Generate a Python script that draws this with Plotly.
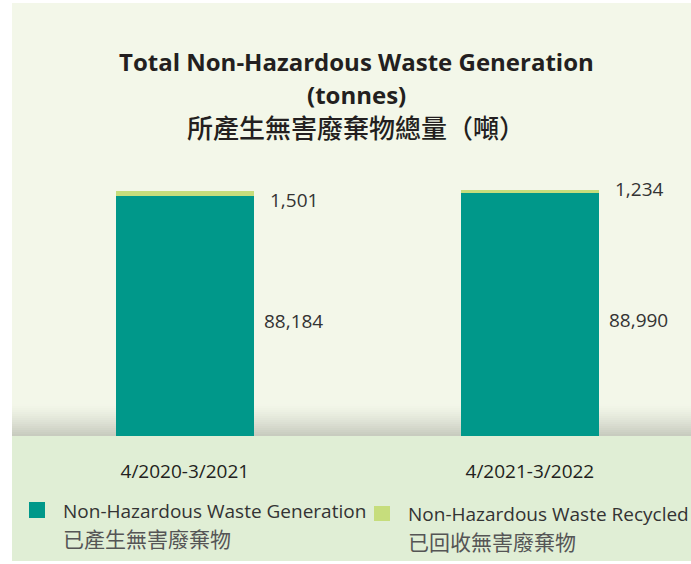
import plotly.graph_objects as go

# ---- data ----
periods = ["4/2020-3/2021", "4/2021-3/2022"]
generated = [88184, 88990]
recycled = [1501, 1234]
series_names = ["Non-Hazardous Waste Generation", "Non-Hazardous Waste Recycled"]
series_names_zh = ["已產生無害廢棄物", "已回收無害廢棄物"]
title_en = "Total Non-Hazardous Waste Generation"
title_unit = "(tonnes)"
title_zh = "所產生無害廢棄物總量（噸）"

# ---- style ----
W, H = 691, 564
L, R, T, B = 12, 0, 3, 128
TEAL = "#00988a"
LIME = "#c6dd7c"
PANEL = "#f3f7e9"
BAND = "#e0eed5"
LATIN = "Open Sans, Noto Sans, sans-serif"
CJK = "Noto Sans CJK TC, Noto Sans CJK SC, sans-serif"
recycled_label_shift = [-9, 1]

plot_h = H - T - B
plot_w = W - L - R


def py(p):
    return (H - B - p) / plot_h


def pxx(x):
    return (x - L) / plot_w


fig = go.Figure()
fig.add_bar(x=periods, y=generated, name=series_names[0], marker=dict(color=TEAL, line=dict(width=0)),
            width=0.4, showlegend=False, hoverinfo="skip")
fig.add_bar(x=periods, y=recycled, name=series_names[1], marker=dict(color=LIME, line=dict(width=0)),
            width=0.4, showlegend=False, hoverinfo="skip")

shapes = []
# panel
shapes.append(dict(type="rect", xref="paper", yref="paper", x0=0, x1=1, y0=py(436), y1=py(3),
                   fillcolor=PANEL, line=dict(width=0), layer="below"))
# gradient shadow
n = 16
top_c = (0xf3, 0xf7, 0xe9)
bot_c = (0xc6, 0xc9, 0xbd)
y_top, y_bot = 404, 436
for i in range(n):
    t = (i + 0.5) / n
    t2 = t ** 1.3
    c = tuple(int(round(top_c[k] + (bot_c[k] - top_c[k]) * t2)) for k in range(3))
    a = y_top + (y_bot - y_top) * i / n
    b = y_top + (y_bot - y_top) * (i + 1) / n
    shapes.append(dict(type="rect", xref="paper", yref="paper", x0=0, x1=1, y0=py(b), y1=py(a),
                       fillcolor="rgb(%d,%d,%d)" % c, line=dict(width=0), layer="below"))
# bottom band
shapes.append(dict(type="rect", xref="paper", yref="paper", x0=0, x1=1, y0=py(561), y1=py(436),
                   fillcolor=BAND, line=dict(width=0), layer="below"))
# legend squares
shapes.append(dict(type="rect", xref="paper", yref="paper", x0=pxx(29), x1=pxx(45), y0=py(518), y1=py(502),
                   fillcolor=TEAL, line=dict(width=0)))
shapes.append(dict(type="rect", xref="paper", yref="paper", x0=pxx(374), x1=pxx(390), y0=py(521), y1=py(506),
                   fillcolor=LIME, line=dict(width=0)))

ann = []
# titles
ann.append(dict(text="<b>" + title_en + "</b>", x=pxx(356), y=py(62), xref="paper", yref="paper",
                xanchor="center", yanchor="middle",
                showarrow=False, font=dict(family=LATIN, size=24, color="#231f20")))
ann.append(dict(text="<b>" + title_unit + "</b>", x=pxx(356), y=py(94), xref="paper", yref="paper",
                xanchor="center", yanchor="middle",
                showarrow=False, font=dict(family=LATIN, size=24, color="#231f20")))
ann.append(dict(text=title_zh, x=pxx(356), y=py(127), xref="paper", yref="paper",
                xanchor="center", yanchor="middle",
                showarrow=False, font=dict(family=CJK, size=26, color="#231f20", weight=500)))
# value labels
for i, p in enumerate(periods):
    ann.append(dict(text=f"{generated[i]:,}", x=p, y=generated[i] / 2, xref="x", yref="y",
                    xanchor="left", yanchor="middle", xshift=69 + 8, yshift=-5, showarrow=False,
                    font=dict(family=LATIN, size=19, color="#333333")))
    ann.append(dict(text=f"{recycled[i]:,}", x=p, y=generated[i] + recycled[i], xref="x", yref="y",
                    xanchor="left", yanchor="middle", xshift=69 + 14, yshift=recycled_label_shift[i],
                    showarrow=False, font=dict(family=LATIN, size=19, color="#333333")))
# legend text
ann.append(dict(text=series_names[0], x=pxx(61), y=py(511), xref="paper", yref="paper",
                xanchor="left", yanchor="middle",
                showarrow=False, font=dict(family=LATIN, size=19, color="#333333")))
ann.append(dict(text=series_names_zh[0], x=pxx(61), y=py(538), xref="paper", yref="paper",
                xanchor="left", yanchor="middle",
                showarrow=False, font=dict(family=CJK, size=21, color="#555555")))
ann.append(dict(text=series_names[1], x=pxx(406), y=py(514), xref="paper", yref="paper",
                xanchor="left", yanchor="middle",
                showarrow=False, font=dict(family=LATIN, size=19, color="#333333")))
ann.append(dict(text=series_names_zh[1], x=pxx(406), y=py(541), xref="paper", yref="paper",
                xanchor="left", yanchor="middle",
                showarrow=False, font=dict(family=CJK, size=21, color="#555555")))

fig.update_layout(
    width=W, height=H, autosize=False,
    margin=dict(l=L, r=R, t=T, b=B, pad=0),
    paper_bgcolor="white", plot_bgcolor="rgba(0,0,0,0)",
    barmode="stack", bargap=0,
    shapes=shapes, annotations=ann,
    xaxis=dict(type="category", range=[-0.501, 1.467], showgrid=False, zeroline=False, showline=False,
               ticks="", ticklen=0, tickfont=dict(family=LATIN, size=19, color="#231f20"),
               ticklabelstandoff=22),
    yaxis=dict(range=[0, 158800], visible=False),
    showlegend=False,
)

fig.write_html("out.html", config={"displayModeBar": False},
               post_script="document.body.style.margin='0';document.body.style.padding='0';")
